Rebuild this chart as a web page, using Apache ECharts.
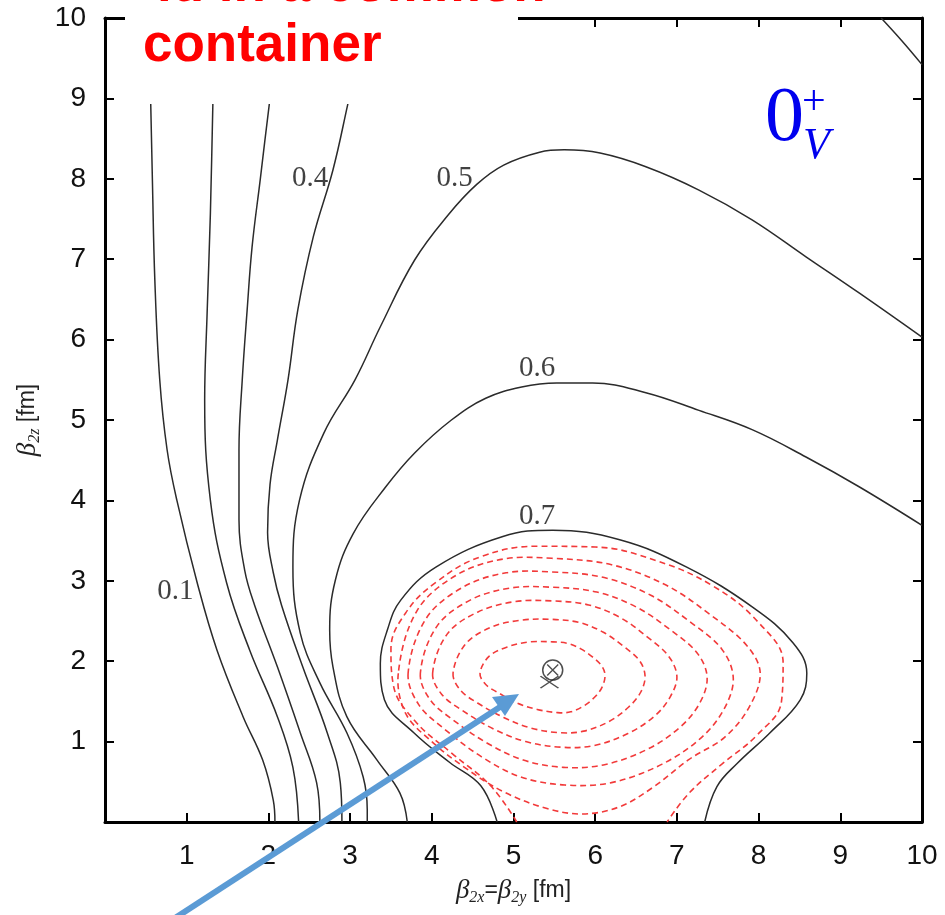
<!DOCTYPE html>
<html>
<head>
<meta charset="utf-8">
<script src="https://cdn.jsdelivr.net/npm/echarts@6/dist/echarts.min.js"></script>
<style>
  html, body { margin: 0; padding: 0; background: #fff; }
  #main { width: 945px; height: 915px; }
</style>
</head>
<body>
<div id="main"></div>
<script>
// tick labels
const xTicks = [1, 2, 3, 4, 5, 6, 7, 8, 9, 10]
const yTicks = [1, 2, 3, 4, 5, 6, 7, 8, 9, 10]

// solid contour levels ([beta2x, beta2z])
const level01 = [[0.55,9.3],[0.56,8.92],[0.58,7.99],[0.61,6.74],[0.67,5.5],[0.76,4.63],[0.88,4.0],[1.13,2.97],[1.37,2.14],[1.69,1.31],[1.93,0.77],[2.06,0.27],[2.08,0]]
const level02 = [[1.33,9.3],[1.32,8.92],[1.29,7.57],[1.25,6.33],[1.22,5.25],[1.29,4.0],[1.49,2.97],[1.77,2.14],[2.11,1.31],[2.3,0.68],[2.37,0]]
const level03 = [[2.06,9.3],[2.01,8.92],[1.9,7.99],[1.8,7.15],[1.74,6.37],[1.68,5.5],[1.64,4.63],[1.64,3.76],[1.71,3.13],[1.83,2.7],[2.11,1.93],[2.39,1.11],[2.59,0.49],[2.63,0]]
const level04 = [[3.05,9.3],[2.97,8.92],[2.79,8.11],[2.55,7.28],[2.36,6.37],[2.24,5.5],[2.11,4.75],[2.02,4.2],[1.99,3.6],[2.06,3.1],[2.16,2.7],[2.42,1.93],[2.72,1.11],[2.88,0.49],[2.9,0]]
const level05 = [[10,6.03],[9.23,6.58],[8.58,7.03],[7.92,7.49],[7.27,7.86],[6.62,8.15],[6.06,8.32],[5.62,8.36],[5.32,8.33],[4.88,8.17],[4.55,7.93],[4.2,7.55],[3.79,6.99],[3.37,6.16],[3.06,5.5],[2.68,4.84],[2.38,4.0],[2.3,3.17],[2.39,2.35],[2.63,1.73],[2.96,1.11],[3.16,0.56],[3.21,0.15],[3.21,0]]
const level06 = [[10,3.69],[9.23,4.17],[8.58,4.54],[7.92,4.88],[7.27,5.12],[6.62,5.34],[5.97,5.46],[5.53,5.46],[5.1,5.41],[4.66,5.27],[4.24,5.0],[3.79,4.59],[3.43,4.16],[3.04,3.59],[2.82,3.01],[2.75,2.39],[2.79,1.93],[2.96,1.31],[3.33,0.77],[3.61,0.36],[3.7,0]]
const level07 = [[4.8,0],[4.6,0.45],[4.22,0.74],[3.78,1.11],[3.42,1.52],[3.37,1.97],[3.46,2.4],[3.62,2.76],[4.05,3.17],[4.87,3.55],[5.48,3.63],[6.3,3.51],[7.12,3.17],[7.93,2.67],[8.42,2.23],[8.59,1.85],[8.51,1.52],[8.14,1.11],[7.74,0.73],[7.49,0.44],[7.34,0]]
const cornerLine = [[9.5,10],[9.75,9.72],[10,9.42]]

// dashed inner contours, innermost first (closed loops)
const ring1 = [[4.59,1.85],[4.66,1.71],[4.81,1.61],[5.04,1.48],[5.29,1.4],[5.54,1.36],[5.7,1.37],[5.87,1.45],[6.01,1.57],[6.09,1.69],[6.12,1.83],[6.08,1.94],[5.97,2.05],[5.83,2.15],[5.67,2.22],[5.48,2.24],[5.2,2.24],[4.93,2.18],[4.7,2.06]]
const ring2 = [[4.26,1.85],[4.35,1.64],[4.56,1.48],[4.88,1.3],[5.21,1.17],[5.57,1.11],[5.86,1.13],[6.17,1.25],[6.41,1.43],[6.56,1.62],[6.61,1.82],[6.54,2.01],[6.34,2.19],[6.1,2.36],[5.81,2.48],[5.48,2.52],[5.09,2.51],[4.72,2.42],[4.41,2.21]]
const ring3 = [[4.01,1.85],[4.12,1.59],[4.37,1.39],[4.75,1.16],[5.15,1.0],[5.59,0.93],[5.98,0.95],[6.4,1.1],[6.73,1.32],[6.92,1.56],[7.0,1.81],[6.9,2.06],[6.64,2.3],[6.31,2.54],[5.92,2.7],[5.47,2.75],[5.01,2.74],[4.56,2.61],[4.19,2.34]]
const ring4 = [[3.86,1.85],[3.98,1.52],[4.26,1.27],[4.68,0.98],[5.12,0.77],[5.61,0.68],[6.1,0.71],[6.63,0.9],[7.04,1.18],[7.28,1.48],[7.37,1.8],[7.25,2.1],[6.92,2.39],[6.51,2.67],[6.02,2.86],[5.47,2.92],[4.96,2.91],[4.47,2.76],[4.06,2.43]]
const ring5 = [[3.71,1.85],[3.84,1.46],[4.15,1.16],[4.61,0.81],[5.09,0.56],[5.63,0.46],[6.2,0.49],[6.82,0.72],[7.3,1.05],[7.58,1.41],[7.69,1.79],[7.55,2.15],[7.16,2.49],[6.68,2.82],[6.11,3.04],[5.47,3.11],[4.91,3.1],[4.38,2.92],[3.93,2.53]]
const ring6 = [[3.59,1.85],[3.68,1.35],[4.0,1.0],[4.4,0.68],[4.87,0.38],[5.4,0.17],[5.85,0.1],[6.3,0.19],[6.72,0.44],[7.15,0.78],[7.58,1.05],[7.88,1.42],[8.02,1.85],[7.86,2.19],[7.42,2.57],[6.86,2.95],[6.2,3.2],[5.47,3.28],[4.87,3.27],[4.3,3.07],[3.82,2.63]]
// outermost dashed level, open at the bottom axis
const ring7 = [[5.04,0],[4.72,0.45],[4.25,0.85],[3.8,1.25],[3.53,1.7],[3.5,2.15],[3.68,2.6],[4.05,2.98],[4.6,3.3],[5.3,3.43],[6.0,3.42],[6.75,3.25],[7.45,2.93],[8.0,2.48],[8.3,1.98],[8.28,1.5],[7.98,1.08],[7.55,0.72],[7.15,0.36],[6.88,0]]
const closedRings = [ring1, ring2, ring3, ring4, ring5, ring6]

// contour labels
const levelLabels = [[0.86,2.87,'0.1'],[2.51,8.0,'0.4'],[4.28,8.0,'0.5'],[5.29,5.64,'0.6'],[5.29,3.8,'0.7']]
// minimum markers
const minCircle = [[5.48,1.89]]
const minCross = [[5.44,1.74]]

const chart = echarts.init(document.getElementById('main'))

const red = '#f23a3a'
function solidLine(data) {
  return {
    type: 'line', data: data, smooth: 0.4, showSymbol: false, silent: true,
    lineStyle: { color: '#2b2b2b', width: 1.5 }, z: 3,
  }
}

const crossPath = 'path://M0,0L10,10M10,0L0,10'
const nameRich = {
  b: { fontFamily: 'Liberation Serif', fontStyle: 'italic', fontSize: 27, lineHeight: 30, color: '#222' },
  s: { fontFamily: 'Liberation Serif', fontStyle: 'italic', fontSize: 16, lineHeight: 16, verticalAlign: 'bottom', color: '#222' },
  n: { fontFamily: 'Liberation Sans', fontSize: 23, lineHeight: 30, color: '#222' },
}
const axisLineStyle = { color: '#000', width: 3 }
const tickStyle = { color: '#000', width: 2 }

const option = {
  backgroundColor: '#fff',
  animation: false,
  grid: { left: 105, right: 23, top: 18, bottom: 93 },
  xAxis: [
    {
      type: 'value', min: 0, max: 10, interval: 1, position: 'bottom',
      axisLine: { onZero: false, lineStyle: axisLineStyle },
      axisTick: { inside: true, length: 9, lineStyle: tickStyle },
      axisLabel: {
        showMinLabel: false, fontSize: 28, color: '#111', margin: 20, fontFamily: 'Liberation Sans',
        formatter: v => (xTicks.indexOf(v) >= 0 ? String(v) : ''),
      },
      splitLine: { show: false },
      name: '{b|β}{s|2x}{n|=}{b|β}{s|2y}{n| [fm]}',
      nameLocation: 'middle', nameGap: 54,
      nameTextStyle: { rich: nameRich },
    },
    {
      type: 'value', min: 0, max: 10, interval: 1, position: 'top',
      axisLine: { onZero: false, lineStyle: axisLineStyle },
      axisTick: { inside: true, length: 9, lineStyle: tickStyle },
      axisLabel: { show: false }, splitLine: { show: false },
    },
  ],
  yAxis: [
    {
      type: 'value', min: 0, max: 10, interval: 1, position: 'left',
      axisLine: { onZero: false, lineStyle: axisLineStyle },
      axisTick: { inside: true, length: 9, lineStyle: tickStyle },
      axisLabel: {
        showMinLabel: false, fontSize: 28, color: '#111', margin: 19, fontFamily: 'Liberation Sans',
        formatter: v => (yTicks.indexOf(v) >= 0 ? String(v) : ''),
      },
      splitLine: { show: false },
      name: '{b|β}{s|2z}{n| [fm]}',
      nameLocation: 'middle', nameGap: 62,
      nameTextStyle: { rich: nameRich },
    },
    {
      type: 'value', min: 0, max: 10, interval: 1, position: 'right',
      axisLine: { onZero: false, lineStyle: axisLineStyle },
      axisTick: { inside: true, length: 9, lineStyle: tickStyle },
      axisLabel: { show: false }, splitLine: { show: false },
    },
  ],
  series: [
    solidLine(level01), solidLine(level02), solidLine(level03), solidLine(level04),
    solidLine(level05), solidLine(level06), solidLine(level07), solidLine(cornerLine),
    {
      // closed dashed loops, drawn as smooth closed polygons through the axes
      type: 'custom', silent: true, z: 3,
      data: closedRings.map((r, i) => [i, 0]),
      renderItem: (params, api) => {
        const ring = closedRings[api.value(0)]
        return {
          type: 'polygon',
          shape: { points: ring.map(p => api.coord(p)), smooth: 0.35 },
          style: { fill: 'none', stroke: red, lineWidth: 1.6, lineDash: [6, 4] },
        }
      },
    },
    {
      type: 'line', data: ring7, smooth: 0.4, showSymbol: false, silent: true, z: 3,
      lineStyle: { color: red, width: 1.6, type: [6, 4] },
    },
    {
      type: 'scatter', data: levelLabels, symbolSize: 1, silent: true, z: 4,
      itemStyle: { color: 'rgba(0,0,0,0)' },
      label: {
        show: true, position: 'inside', formatter: p => p.data[2],
        fontFamily: 'Liberation Serif', fontSize: 29, color: '#111',
      },
    },
    {
      type: 'scatter', data: minCircle, symbol: 'circle', symbolSize: 20, silent: true, z: 5,
      itemStyle: { color: 'rgba(0,0,0,0)', borderColor: '#222', borderWidth: 1.5 },
    },
    {
      type: 'scatter', data: minCircle, symbol: crossPath, symbolSize: 11, silent: true, z: 5,
      itemStyle: { color: 'rgba(0,0,0,0)', borderColor: '#222', borderWidth: 1.4 },
    },
    {
      type: 'scatter', data: minCross, symbol: crossPath, symbolSize: [18, 12], silent: true, z: 5,
      itemStyle: { color: 'rgba(0,0,0,0)', borderColor: '#222', borderWidth: 1.5 },
    },
  ],
  graphic: [
    // slide text box covering the top-left of the plot
    { type: 'rect', z: 100, shape: { x: 125, y: 0, width: 393, height: 104 }, style: { fill: '#fff' } },
    {
      type: 'text', z: 101, left: 157, top: -40,
      style: { text: 'ld in a common', fontFamily: 'Liberation Sans', fontWeight: 'bold', fontSize: 53, fill: '#ff0000' },
    },
    {
      type: 'text', z: 101, left: 143, top: 20,
      style: { text: 'container', fontFamily: 'Liberation Sans', fontWeight: 'bold', fontSize: 53, fill: '#ff0000' },
    },
    // state label
    {
      type: 'text', z: 101, left: 765, top: 81,
      style: { text: '0', fontFamily: 'Liberation Serif', fontSize: 78, fill: '#0000ee' },
    },
    {
      type: 'text', z: 101, left: 802, top: 82,
      style: { text: '+', fontFamily: 'Liberation Serif', fontSize: 42, fill: '#0000ee' },
    },
    {
      type: 'text', z: 101, left: 803, top: 124,
      style: { text: 'V', fontFamily: 'Liberation Serif', fontStyle: 'italic', fontSize: 44, fill: '#0000ee' },
    },
    // arrow
    {
      type: 'line', z: 102, shape: { x1: 172, y1: 920, x2: 500, y2: 707 },
      style: { stroke: '#5b9bd5', lineWidth: 6 },
    },
    {
      type: 'polygon', z: 102, shape: { points: [[519, 694], [505, 716], [492, 697]] },
      style: { fill: '#5b9bd5' },
    },
  ],
}

chart.setOption(option)
</script>
</body>
</html>
